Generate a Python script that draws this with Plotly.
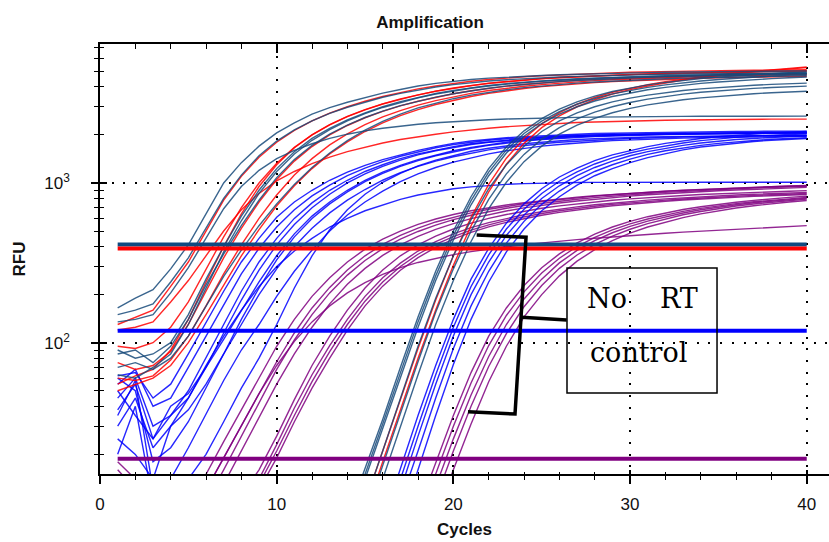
import plotly.graph_objects as go

# ---------------- data (RFU per cycle) ----------------
cycles = [1, 2, 3, 4, 5, 6, 7, 8, 9, 10, 11, 12, 13, 14, 15, 16, 17, 18, 19, 20,
          21, 22, 23, 24, 25, 26, 27, 28, 29, 30, 31, 32, 33, 34, 35, 36, 37, 38, 39, 40]

early_darkblue = [
    [165,190,215,290,410,640,1000,1340,1700,2060,2380,2700,2960,3200,3420,3650,3850,4050,4200,4330,4440,4530,4600,4660,4710,4760,4800,4830,4860,4890,4910,4930,4950,4965,4980,4990,5000,5010,5020,5030],
    [135,140,150,205,295,450,690,950,1200,1420,1600,1760,1900,2020,2120,2200,2270,2330,2380,2420,2460,2490,2515,2535,2550,2565,2575,2585,2595,2600,2605,2610,2610,2615,2615,2620,2620,2620,2620,2620],
    [150,160,175,240,340,520,800,1120,1480,1830,2150,2450,2730,2980,3220,3440,3640,3830,3990,4130,4250,4350,4430,4500,4560,4610,4650,4690,4720,4750,4770,4790,4810,4830,4840,4850,4860,4870,4880,4890],
    [90,80,85,100,150,250,400,620,900,1230,1570,1900,2200,2480,2750,3000,3230,3440,3630,3800,3950,4080,4190,4280,4360,4430,4490,4540,4580,4620,4660,4690,4720,4750,4770,4790,4810,4830,4850,4870],
    [63,60,70,85,130,220,370,580,860,1180,1520,1850,2160,2450,2720,2970,3200,3410,3600,3770,3920,4050,4160,4250,4330,4400,4460,4510,4560,4600,4640,4680,4710,4740,4760,4780,4800,4820,4840,4860],
    [85,90,75,95,140,230,360,540,780,1080,1400,1720,2020,2300,2570,2820,3050,3260,3450,3620,3780,3920,4040,4140,4230,4310,4380,4440,4490,4540,4580,4620,4650,4680,4710,4740,4760,4780,4800,4820],
    [70,75,68,80,110,170,260,380,540,740,980,1250,1540,1840,2140,2430,2700,2950,3170,3370,3550,3700,3830,3950,4050,4140,4220,4290,4350,4400,4450,4490,4530,4560,4590,4620,4640,4660,4680,4700],
]

early_red = [
    [130,145,160,225,320,500,780,1100,1450,1800,2130,2450,2740,3000,3250,3480,3690,3880,4050,4200,4330,4440,4540,4620,4690,4750,4800,4850,4890,4930,4960,4990,5010,5030,5050,5070,5080,5090,5100,5110],
    [120,125,135,180,245,350,500,680,860,1030,1180,1320,1450,1570,1680,1780,1870,1950,2020,2090,2150,2200,2250,2290,2330,2360,2390,2410,2430,2450,2460,2470,2480,2490,2495,2500,2505,2510,2510,2510],
    [95,92,100,125,180,290,460,700,1000,1330,1670,2000,2310,2600,2870,3120,3350,3560,3750,3920,4070,4200,4310,4410,4490,4560,4620,4680,4730,4770,4810,4840,4870,4900,4920,4940,4960,4980,5000,5010],
    [55,62,68,90,140,240,400,640,950,1300,1660,2000,2320,2610,2880,3130,3360,3570,3760,3930,4080,4210,4320,4420,4500,4570,4630,4690,4740,4780,4820,4860,4890,4920,4950,4970,4990,5010,5030,5050],
    [75,68,72,88,130,210,340,520,760,1050,1370,1690,2000,2290,2560,2810,3040,3250,3440,3620,3780,3920,4040,4150,4240,4320,4390,4450,4500,4550,4590,4630,4660,4690,4720,4740,4760,4780,4800,4820],
    [60,58,62,78,110,170,270,410,600,840,1120,1420,1730,2030,2320,2590,2840,3070,3280,3470,3640,3790,3920,4030,4130,4220,4300,4370,4430,4480,4530,4570,4610,4640,4670,4700,4720,4740,4760,4780],
    [50,55,60,72,100,150,230,350,510,720,960,1230,1520,1810,2100,2380,2640,2880,3100,3300,3480,3640,3780,3900,4010,4100,4180,4250,4310,4360,4410,4450,4490,4520,4550,4580,4600,4620,4640,4660],
]

early_blue = [
    [62,65,45,55,85,135,210,320,450,610,760,900,1040,1170,1290,1400,1500,1600,1690,1770,1830,1880,1920,1950,1980,2000,2020,2040,2050,2060,2070,2080,2090,2095,2100,2100,2105,2105,2110,2110],
    [55,68,40,45,70,110,175,270,390,530,680,830,970,1110,1240,1360,1470,1570,1660,1740,1800,1850,1890,1920,1950,1970,1990,2000,2010,2020,2030,2040,2045,2050,2055,2060,2060,2065,2065,2070],
    [45,60,30,35,50,80,130,210,320,450,600,750,900,1040,1180,1300,1420,1520,1610,1690,1760,1810,1860,1900,1930,1960,1980,2000,2010,2020,2030,2040,2045,2050,2055,2060,2060,2065,2065,2070],
    [38,55,25,35,45,70,115,185,285,410,550,700,850,1000,1140,1270,1390,1500,1590,1670,1740,1800,1840,1880,1910,1940,1960,1980,1990,2000,2010,2020,2025,2030,2035,2040,2040,2045,2045,2050],
    [30,45,22,30,45,72,110,160,225,300,375,450,530,600,670,730,790,840,880,920,945,965,980,990,998,1003,1006,1008,1010,1010,1010,1010,1010,1010,1010,1010,1010,1010,1010,1010],
    [25,20,14,30,38,55,85,140,220,330,460,600,740,880,1020,1150,1270,1380,1480,1570,1650,1720,1780,1830,1870,1900,1930,1950,1970,1990,2000,2010,2020,2030,2035,2040,2045,2050,2050,2055],
    [60,50,18,22,32,52,85,130,200,290,400,520,650,780,910,1040,1160,1270,1370,1460,1540,1610,1670,1720,1760,1800,1830,1860,1880,1900,1920,1930,1940,1950,1960,1970,1975,1980,1985,1990],
    [35,58,12,14,22,36,58,90,130,195,280,380,500,630,760,890,1020,1140,1250,1350,1440,1520,1590,1650,1700,1740,1780,1810,1840,1860,1880,1900,1910,1920,1930,1940,1945,1950,1955,1960],
    [20,40,10,10,14,20,32,52,80,130,220,350,510,680,850,1010,1150,1280,1390,1490,1580,1650,1710,1760,1800,1840,1870,1890,1910,1930,1940,1950,1960,1965,1970,1975,1980,1980,1985,1985],
    [50,35,25,40,48,70,105,160,240,350,480,620,760,900,1040,1170,1290,1400,1500,1590,1670,1740,1800,1850,1890,1920,1950,1970,1990,2010,2020,2030,2040,2050,2055,2060,2065,2070,2075,2080],
]

early_purple = [
    [18,14,10,8,10,15,24,38,60,95,140,195,255,320,385,445,500,550,595,635,670,700,728,752,775,795,815,832,848,862,876,889,901,912,922,932,941,949,957,965],
    [16,12,9,7,8,12,19,30,48,76,115,165,222,285,350,412,470,522,570,612,650,684,714,741,765,788,808,827,844,860,874,887,899,910,920,929,938,946,953,960],
    [14,11,8,6,7,10,16,26,42,68,104,150,205,265,327,388,445,497,545,589,628,663,694,722,747,770,791,810,828,844,859,873,886,898,909,919,928,937,945,952],
    [12,10,7,5,6,8,13,21,34,55,85,125,175,232,292,352,410,463,512,557,598,635,668,698,725,749,771,791,810,827,843,857,870,882,893,903,913,922,930,938],
    [10,9,7,5,5,6,8,11,16,26,44,72,110,160,220,285,350,410,465,515,560,600,635,666,694,719,741,761,779,795,810,823,835,846,856,865,873,881,888,895],
    [9,8,6,5,5,6,7,10,14,23,39,63,96,140,195,255,315,375,430,480,525,565,600,632,660,686,709,730,749,766,781,795,808,820,831,841,850,858,866,873],
    [9,8,6,4,5,5,7,9,13,21,35,57,88,130,182,240,300,358,412,462,507,547,583,615,644,670,694,715,734,751,767,781,794,806,817,827,836,844,852,859],
    [8,7,5,4,4,5,6,8,12,19,32,52,80,120,170,226,284,341,395,445,490,531,567,599,628,654,678,700,720,738,754,769,782,794,805,815,824,832,840,847],
    [15,12,9,7,8,12,19,30,48,72,102,135,170,205,238,268,295,318,338,356,372,386,399,411,422,432,442,451,460,468,476,484,492,499,506,513,520,527,534,541],
]

# No-RT control curves (values start at the given cycle)
late_darkblue_start = 13
late_darkblue = [
    [4,8,16,33,70,145,280,500,820,1230,1680,2120,2530,2900,3220,3500,3740,3940,4110,4260,4390,4500,4600,4690,4770,4840,4900,4960],
    [3.8,7.5,15,31,65,135,262,470,775,1170,1610,2040,2440,2800,3110,3380,3610,3800,3970,4110,4240,4350,4440,4530,4600,4670,4730,4780],
    [3.5,7,14,29,60,125,245,440,730,1110,1540,1960,2350,2700,3000,3260,3480,3670,3830,3970,4090,4200,4290,4370,4440,4500,4560,4610],
    [2.5,5,10,21,45,95,190,350,590,920,1300,1700,2100,2450,2750,3000,3220,3400,3550,3680,3790,3880,3960,4030,4090,4140,4180,4220],
    [2,4,8,17,36,76,155,290,500,790,1140,1510,1880,2220,2520,2780,3000,3190,3350,3490,3600,3700,3780,3850,3910,3960,4000,4040],
    [1.6,3.2,6.5,14,30,63,130,245,430,690,1010,1360,1700,2020,2300,2540,2750,2930,3080,3210,3320,3410,3490,3560,3620,3670,3710,3750],
]
late_red_start = 13
late_red = [
    [2.5,5,10,21,44,92,185,350,610,980,1430,1900,2350,2760,3120,3430,3700,3930,4130,4310,4470,4620,4760,4890,5010,5120,5220,5320],
    [2,4,8.5,18,38,80,160,305,540,880,1310,1770,2220,2630,3000,3320,3600,3840,4050,4240,4410,4570,4710,4840,4960,5070,5170,5270],
]
late_blue_start = 15
late_blue = [
    [3.5,7.5,16,35,72,140,250,390,560,740,920,1090,1240,1380,1500,1600,1690,1770,1840,1900,1950,1990,2030,2060,2080,2100],
    [3,6.5,14,30,63,125,225,355,515,685,860,1025,1175,1315,1435,1540,1630,1710,1780,1840,1890,1930,1965,1995,2015,2035],
    [2.5,5.5,12,26,55,110,200,320,470,630,800,960,1110,1250,1370,1480,1570,1650,1720,1780,1830,1870,1900,1930,1950,1970],
    [2,4.5,10,21,45,92,170,280,420,575,735,890,1040,1180,1300,1410,1510,1590,1660,1720,1770,1810,1850,1880,1900,1920],
    [1.5,3.3,7.5,16,35,73,140,240,370,515,670,820,970,1110,1230,1340,1440,1530,1610,1680,1730,1780,1820,1850,1880,1900],
]
late_purple_start = 17
late_purple = [
    [4.5,9,18,35,65,110,165,228,295,360,422,478,530,575,615,650,682,710,735,758,778,797,812,826],
    [3.8,7.5,15,30,56,96,148,208,273,338,400,457,508,554,595,631,664,693,719,742,762,781,797,812],
    [3.2,6.3,12.5,25,47,82,130,188,250,316,378,436,488,535,577,615,649,680,707,731,752,771,788,803],
    [2.6,5.2,10.5,21,40,71,114,168,228,292,354,412,465,513,557,596,632,663,692,717,739,759,777,792],
    [2,4,8,16,31,57,95,145,200,262,324,382,436,485,530,570,607,640,670,697,720,741,760,776],
]

# threshold levels (RFU) and the cycle span they cover
threshold_span = [1, 40]
threshold_darkblue = 412
threshold_red = 389
threshold_blue = 119
threshold_purple = 18.8

x_ticks = [0, 10, 20, 30, 40]
x_minor = [2, 4, 6, 8, 12, 14, 16, 18, 22, 24, 26, 28, 32, 34, 36, 38]
y_ticks = [100, 1000]
y_ticktext = ["10<sup>2</sup>", "10<sup>3</sup>"]
y_minor = [20, 30, 40, 50, 60, 70, 80, 90, 200, 300, 400, 500, 600, 700, 800, 900,
           2000, 3000, 4000, 5000, 6000, 7000]

# ---------------- styling ----------------
C_DB = "rgba(24,74,122,0.85)"
C_RED = "rgba(255,0,0,0.85)"
C_BLUE = "rgba(0,0,255,0.85)"
C_PUR = "rgba(128,0,128,0.85)"
LW = 1.4

fig = go.Figure()


def add_curves(curves, color, start=1):
    xs = cycles[start - 1:]
    for vals in curves:
        fig.add_trace(go.Scatter(x=xs[:len(vals)], y=vals, mode="lines",
                                 line=dict(color=color, width=LW),
                                 showlegend=False, hoverinfo="skip"))


add_curves(early_purple, C_PUR)
add_curves(late_purple, C_PUR, late_purple_start)
add_curves(early_blue, C_BLUE)
add_curves(late_blue, C_BLUE, late_blue_start)
add_curves(early_red, C_RED)
add_curves(late_red, C_RED, late_red_start)
add_curves(early_darkblue, C_DB)
add_curves(late_darkblue, C_DB, late_darkblue_start)

for val, col in [(threshold_darkblue, "#0f4a80"), (threshold_red, "#ff0000"),
                 (threshold_blue, "#0000ff"), (threshold_purple, "#800080")]:
    fig.add_trace(go.Scatter(x=threshold_span, y=[val, val], mode="lines",
                             line=dict(color=col, width=4),
                             showlegend=False, hoverinfo="skip"))

# empty traces so the overlay tick axes are drawn
fig.add_trace(go.Scatter(x=[None], y=[None], xaxis="x2", yaxis="y", showlegend=False))
fig.add_trace(go.Scatter(x=[None], y=[None], xaxis="x3", yaxis="y2", showlegend=False))

XR = [0, 41.26]
YR = [1.178, 3.870]
TF = dict(family="Liberation Sans, Arial, sans-serif", size=17, color="#111111")

fig.update_layout(
    width=829, height=542,
    margin=dict(l=100, r=0, t=44, b=68),
    paper_bgcolor="white", plot_bgcolor="white",
    title=dict(text="<b>Amplification</b>", x=430 / 829, xref="container", xanchor="center",
               y=1 - 22 / 542, yref="container", yanchor="middle",
               font=dict(family="Liberation Sans, Arial, sans-serif", size=17, color="#111111")),
    xaxis=dict(range=XR, showline=True, linecolor="black", linewidth=1.5,
               ticks="outside", ticklen=8, tickwidth=1.5, tickcolor="black",
               tickvals=x_ticks, tickfont=TF, ticklabelstandoff=6,
               showgrid=True, gridcolor="black", gridwidth=1.6, griddash="2px,9.7px",
               zeroline=False,
               minor=dict(tickvals=x_minor, ticks="outside", ticklen=4, tickwidth=1.3,
                          tickcolor="black", showgrid=False),
               title=dict(text="<b>Cycles</b>", font=TF, standoff=10)),
    xaxis2=dict(range=XR, overlaying="x", anchor="y", side="top", showline=True,
                linecolor="black", linewidth=1.5, ticks="inside", ticklen=9, tickwidth=1.5,
                tickcolor="black", tickvals=x_ticks, showticklabels=False, showgrid=False,
                zeroline=False,
                minor=dict(tickvals=x_minor, ticks="inside", ticklen=5, tickwidth=1.3,
                           tickcolor="black", showgrid=False)),
    xaxis3=dict(range=XR, overlaying="x", anchor="y", side="bottom", showline=False,
                ticks="inside", ticklen=4, tickwidth=1.5, tickcolor="black",
                tickvals=x_ticks, showticklabels=False, showgrid=False, zeroline=False,
                minor=dict(tickvals=x_minor, ticks="inside", ticklen=2, tickwidth=1.3,
                           tickcolor="black", showgrid=False)),
    yaxis=dict(type="log", range=YR, showline=True, linecolor="black", linewidth=1.5,
               ticks="outside", ticklen=7, tickwidth=1.5, tickcolor="black",
               tickvals=y_ticks, ticktext=y_ticktext, tickfont=TF, ticklabelstandoff=18,
               showgrid=True, gridcolor="black", gridwidth=1.6, griddash="2px,9.7px",
               zeroline=False,
               minor=dict(tickvals=y_minor, ticks="outside", ticklen=4, tickwidth=1.3,
                          tickcolor="black", showgrid=False),
               title=dict(text="<b>RFU</b>", font=TF, standoff=14)),
    yaxis2=dict(type="log", range=YR, overlaying="y", anchor="x", side="left",
                showline=False, ticks="inside", ticklen=7, tickwidth=1.5, tickcolor="black",
                tickvals=y_ticks, showticklabels=False, showgrid=False, zeroline=False,
                minor=dict(tickvals=y_minor, ticks="inside", ticklen=4, tickwidth=1.3,
                           tickcolor="black", showgrid=False)),
)

# "No RT control" call-out box and bracket (paper coordinates)
fig.add_shape(type="rect", xref="paper", yref="paper", x0=0.6406, x1=0.8464,
              y0=0.1884, y1=0.4791, line=dict(color="black", width=1.5),
              fillcolor="rgba(0,0,0,0)")
fig.add_shape(type="path", xref="paper", yref="paper",
              path="M 0.5167,0.5558 L 0.5844,0.5505 L 0.5693,0.1395 L 0.5048,0.1449",
              line=dict(color="black", width=3.5))
fig.add_shape(type="path", xref="paper", yref="paper",
              path="M 0.5785,0.3644 L 0.6402,0.3581",
              line=dict(color="black", width=3.5))

SERIF = dict(family="DejaVu Serif, Liberation Serif, serif", size=27, color="black")
fig.add_annotation(text="No", xref="paper", yref="paper", x=0.6955, y=0.4093,
                   xanchor="center", yanchor="middle", showarrow=False, font=SERIF)
fig.add_annotation(text="RT", xref="paper", yref="paper", x=0.7942, y=0.4093,
                   xanchor="center", yanchor="middle", showarrow=False, font=SERIF)
fig.add_annotation(text="control", xref="paper", yref="paper", x=0.6694, y=0.2837,
                   xanchor="left", yanchor="middle", showarrow=False, font=SERIF)

fig.write_html("out.html")
